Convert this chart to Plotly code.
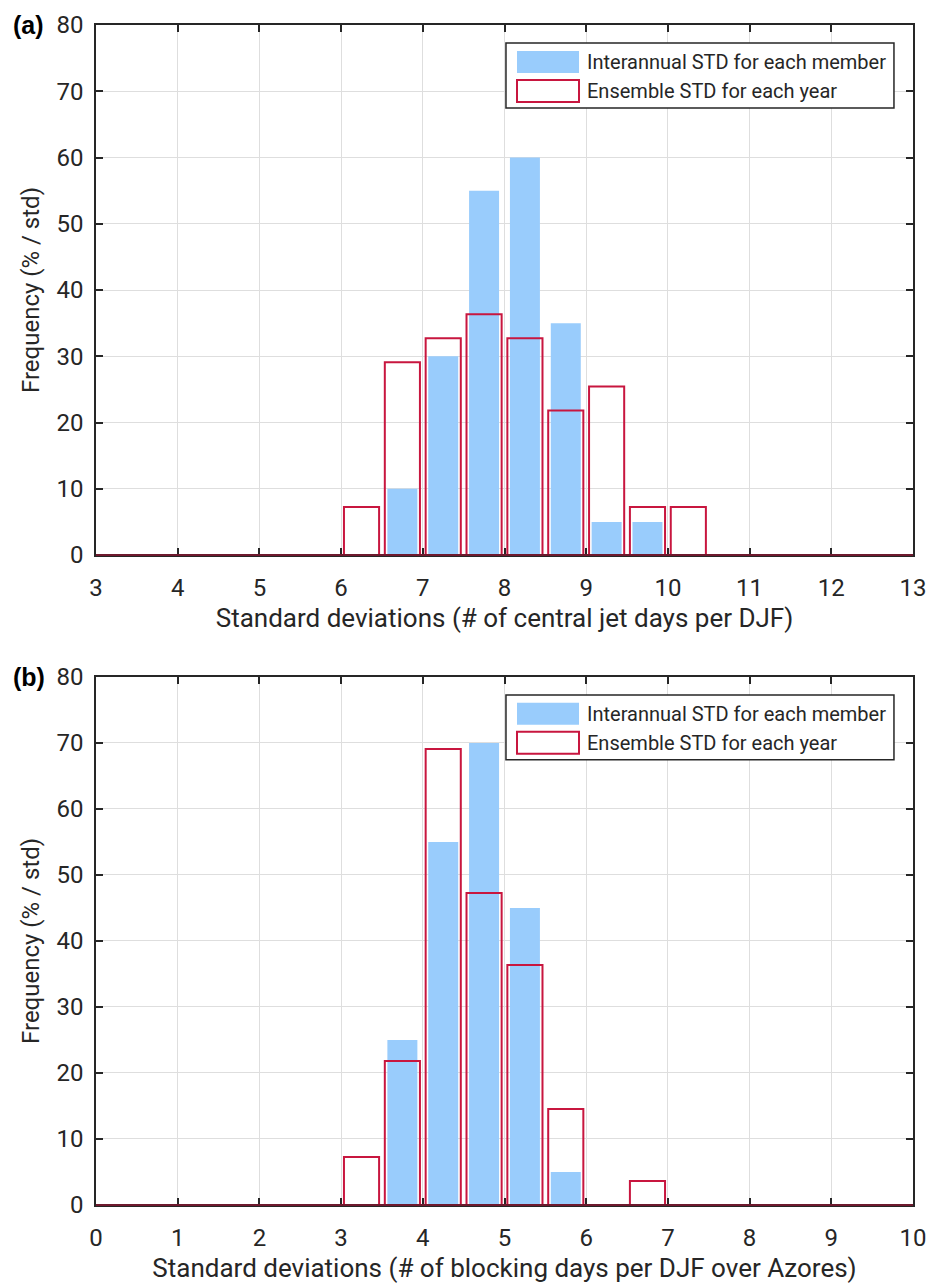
import plotly.graph_objects as go

# ---------------- data ----------------
# panel (a): central jet days
blue_a_x = [6.75, 7.25, 7.75, 8.25, 8.75, 9.25, 9.75]
blue_a_y = [10, 30, 55, 60, 35, 5, 5]
red_a_x = [6.25, 6.75, 7.25, 7.75, 8.25, 8.75, 9.25, 9.75, 10.25]
red_a_y = [7.27, 29.09, 32.73, 36.36, 32.73, 21.82, 25.45, 7.27, 7.27]

# panel (b): blocking days over Azores
blue_b_x = [3.75, 4.25, 4.75, 5.25, 5.75]
blue_b_y = [25, 55, 70, 45, 5]
red_b_x = [3.25, 3.75, 4.25, 4.75, 5.25, 5.75, 6.75]
red_b_y = [7.27, 21.82, 69.09, 47.27, 36.36, 14.55, 3.64]

xticks_a = list(range(3, 14))
xticks_b = list(range(0, 11))
yticks = list(range(0, 90, 10))

legend_labels = ["Interannual STD for each member", "Ensemble STD for each year"]
xtitle_a = "Standard deviations (# of central jet days per DJF)"
xtitle_b = "Standard deviations (# of blocking days per DJF over Azores)"
ytitle = "Frequency (% / std)"
panel_labels = ["(a)", "(b)"]

# ---------------- style ----------------
BLUE = "#99ccfc"
RED = "#c8163f"
MAROON = "#6e1a2e"
AX = "#262626"
GRID = "#dedede"
FONT = "Roboto"

fig = go.Figure()

def add_panel(bx, by, rx, ry, xa, ya):
    fig.add_trace(go.Bar(x=bx, y=by, width=0.367, marker=dict(color=BLUE, line=dict(width=0)),
                         xaxis=xa, yaxis=ya, showlegend=False, hoverinfo="x+y"))
    fig.add_trace(go.Bar(x=rx, y=ry, width=0.43,
                         marker=dict(color="rgba(0,0,0,0)", line=dict(color=RED, width=2)),
                         xaxis=xa, yaxis=ya, showlegend=False, hoverinfo="x+y"))

add_panel(blue_a_x, blue_a_y, red_a_x, red_a_y, "x", "y")
add_panel(blue_b_x, blue_b_y, red_b_x, red_b_y, "x2", "y2")

common_x = dict(ticks="inside", ticklen=7, tickwidth=1.5, tickcolor=AX, mirror="allticks",
                showline=True, linecolor=AX, linewidth=1.5, showgrid=True, gridcolor=GRID,
                gridwidth=1, zeroline=False, dtick=1, ticklabelstandoff=10, automargin=False,
                tickfont=dict(family=FONT, size=24, color=AX),
                title_font=dict(family=FONT, size=26, color=AX), title_standoff=8)
common_y = dict(ticks="inside", ticklen=7, tickwidth=1.5, tickcolor=AX, mirror="allticks",
                showline=True, linecolor=AX, linewidth=1.5, showgrid=True, gridcolor=GRID,
                gridwidth=1, zeroline=False, range=[0, 80], tickvals=yticks, automargin=False,
                tickfont=dict(family=FONT, size=24, color=AX), ticklabelstandoff=6,
                title_font=dict(family=FONT, size=24, color=AX), title_standoff=10)

fig.update_layout(
    width=944, height=1286,
    margin=dict(l=96, r=31, t=25, b=81),
    paper_bgcolor="white", plot_bgcolor="white",
    barmode="overlay", showlegend=False,
    xaxis=dict(common_x, range=[3, 13], tickvals=xticks_a, anchor="y", title_text=xtitle_a),
    yaxis=dict(common_y, domain=[0.5508, 1.0], anchor="x", title_text=ytitle),
    xaxis2=dict(common_x, range=[0, 10], tickvals=xticks_b, anchor="y2", title_text=xtitle_b),
    yaxis2=dict(common_y, domain=[0.0, 0.4475], anchor="x2", title_text=ytitle),
)

shapes = []
annotations = []
for xa, ya, lab in [("x", "y", panel_labels[0]), ("x2", "y2", panel_labels[1])]:
    xr, yr = xa + " domain", ya + " domain"
    # maroon baseline (zero-height histogram bins) over the bottom axis line
    shapes.append(dict(type="line", xref=xr, yref=yr, x0=0, x1=1, y0=0, y1=0,
                       line=dict(color=MAROON, width=2), layer="above"))
    # legend box
    shapes.append(dict(type="rect", xref=xr, yref=yr, x0=0.5018, x1=0.9767, y0=0.8434, y1=0.966,
                       line=dict(color=AX, width=1.5), fillcolor="white", layer="above"))
    shapes.append(dict(type="rect", xref=xr, yref=yr, x0=0.5153, x1=0.5912, y0=0.9094, y1=0.951,
                       line=dict(width=0), fillcolor=BLUE, layer="above"))
    shapes.append(dict(type="rect", xref=xr, yref=yr, x0=0.5153, x1=0.5912, y0=0.8547, y1=0.8962,
                       line=dict(color=RED, width=2), fillcolor="white", layer="above"))
    for txt, yy in zip(legend_labels, [0.930, 0.8755]):
        annotations.append(dict(text=txt, xref=xr, yref=yr, x=0.5985, y=yy, xanchor="left",
                                yanchor="middle", showarrow=False,
                                font=dict(family=FONT, size=20, color=AX)))
    annotations.append(dict(text="<b>" + lab + "</b>", xref=xr, yref=yr, x=-0.104, y=1.0,
                            xanchor="left", yanchor="middle", showarrow=False,
                            font=dict(family="Liberation Sans", size=25, color="black")))

fig.update_layout(shapes=shapes, annotations=annotations)
fig.write_html("out.html")
